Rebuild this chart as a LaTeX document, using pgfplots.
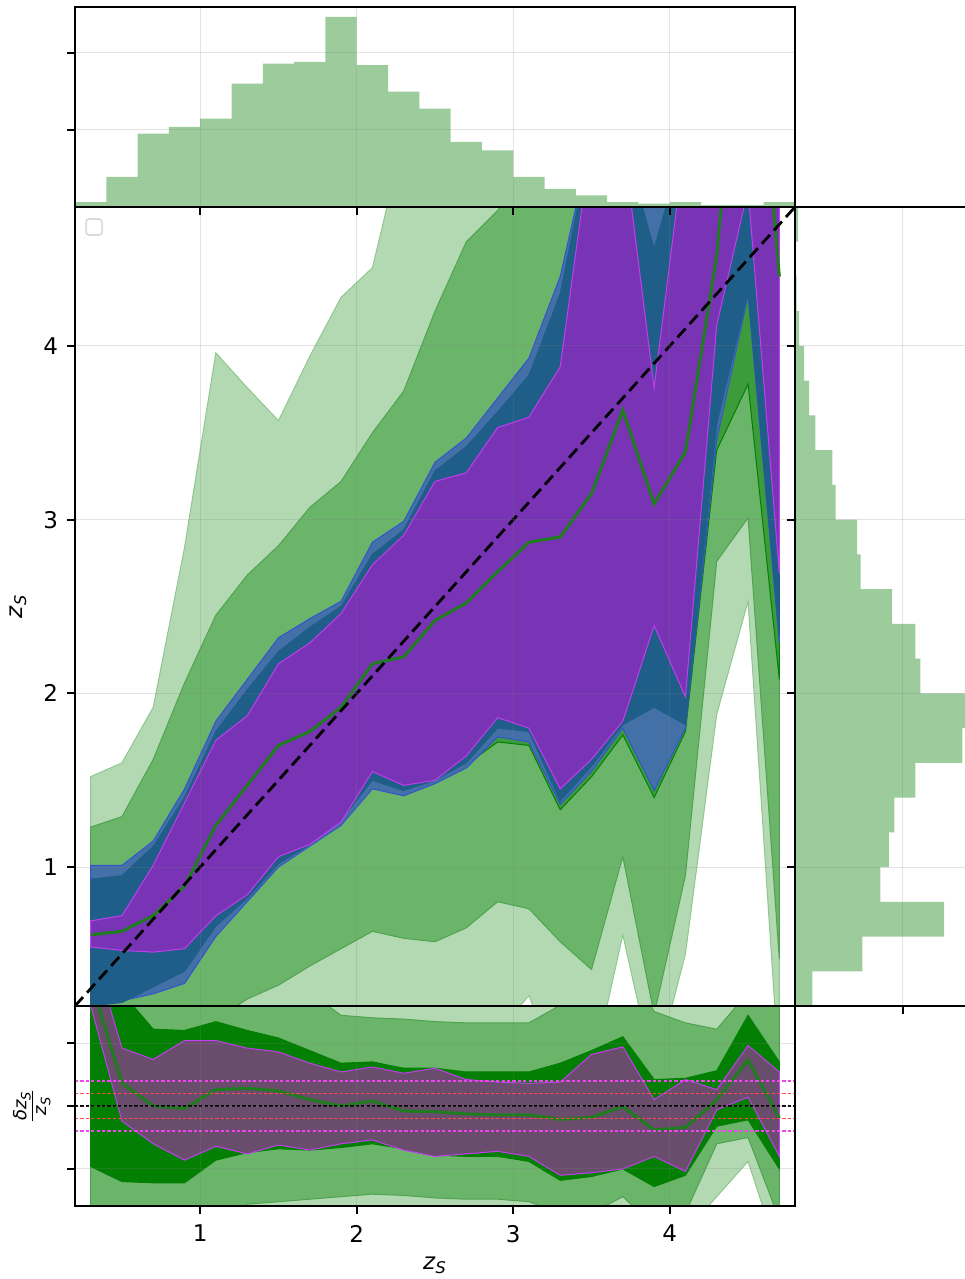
\documentclass[border=0pt]{standalone}
\usepackage{fontspec}
\setmainfont{DejaVu Sans}
\usepackage{pgfplots}
\pgfplotsset{compat=1.18}

\definecolor{lg}{HTML}{B3D9B3}
\definecolor{lgE}{HTML}{8FC78F}
\definecolor{mg}{HTML}{6BB56B}
\definecolor{mgE}{HTML}{4FA34F}
\definecolor{gone}{HTML}{3C9C3C}
\definecolor{bl}{HTML}{4470A8}
\definecolor{blE}{HTML}{3355CC}
\definecolor{bd}{HTML}{1F5E88}
\definecolor{pu}{HTML}{7834B4}
\definecolor{puE}{HTML}{C23CF0}
\definecolor{pg}{HTML}{6A4C6C}
\definecolor{dg}{HTML}{037F03}
\definecolor{hist}{HTML}{9CCB9C}
\definecolor{med}{HTML}{1E7E1E}
\definecolor{refred}{HTML}{FF4A4A}
\definecolor{refmag}{HTML}{EE44EE}

\pgfplotsset{
  panel/.style={
    scale only axis,
    axis on top,
    tick align=outside,
    major tick length=4pt,
    axis line style={line width=0.9pt},
    every tick/.style={line width=0.9pt, black},
    grid=major,
    major grid style={line width=0.5pt, gray, opacity=0.22},
    tick label style={font=\fontsize{11.5}{13}\selectfont},
    label style={font=\fontsize{11.5}{13}\selectfont},
  },
  band/.style={line width=0.5pt},
  refline/.style={line width=0.75pt, dash pattern=on 1.6pt off 1.1pt},
}

\begin{document}
\begin{tikzpicture}
\useasboundingbox (-37.5pt,-136.5pt) rectangle (444.5pt,503pt);

% ---------------- main panel: percentile bands of z_pred per z_S bin ----------------
\begin{axis}[panel,
  at={(0pt,0pt)}, anchor=south west,
  width=360pt, height=399.5pt,
  xmin=0.2, xmax=4.8, ymin=0.2, ymax=4.8,
  xtick={1,2,3,4}, xticklabels={}, xtick style={draw=none},
  ytick={1,2,3,4}, yticklabels={1,2,3,4}, ytick pos=left,
  yticklabel style={xshift=-1pt},
  ylabel={\textit{z}\textsubscript{\textit{S}}},
  ylabel style={at={(axis description cs:-0.079,0.5)}, anchor=center},
]
% 99.7 per cent band
\addplot[band, fill=lg, draw=lgE] coordinates {
 (0.3,1.52) (0.5,1.60) (0.7,1.92) (0.9,2.84) (1.1,3.96) (1.3,3.76) (1.5,3.57)
 (1.7,3.94) (1.9,4.28) (2.1,4.45) (2.3,5.2) (4.7,5.2)
 (4.7,-0.2) (4.5,2.53) (4.3,1.88) (4.1,0.50) (3.9,-0.2) (3.7,0.61) (3.5,-0.2)
 (3.3,-0.2) (3.1,0.26) (2.9,0.05) (2.7,-0.1) (2.5,-0.2) (0.3,-0.2)} -- cycle;
% 95 per cent band
\addplot[band, fill=mg, draw=mgE] coordinates {
 (0.3,1.23) (0.5,1.29) (0.7,1.62) (0.9,2.06) (1.1,2.45) (1.3,2.68) (1.5,2.85)
 (1.7,3.07) (1.9,3.22) (2.1,3.50) (2.3,3.74) (2.5,4.20) (2.7,4.60) (2.9,4.78)
 (3.1,5.0) (3.3,5.2) (4.7,5.2)
 (4.7,0.47) (4.5,3.01) (4.3,2.76) (4.1,0.95) (3.9,0.15) (3.7,1.06) (3.5,0.41)
 (3.3,0.57) (3.1,0.76) (2.9,0.80) (2.7,0.65) (2.5,0.57) (2.3,0.59) (2.1,0.63)
 (1.9,0.53) (1.7,0.43) (1.5,0.32) (1.3,0.24) (1.1,0.12) (0.9,0.0) (0.7,-0.1)
 (0.5,-0.2) (0.3,-0.2)} -- cycle;
% 68 per cent band
\addplot[band, fill=gone, draw=dg] coordinates {
 (0.3,0.90) (0.5,0.92) (0.7,1.10) (0.9,1.38) (1.1,1.75) (1.3,2.00) (1.5,2.20)
 (1.7,2.35) (1.9,2.47) (2.1,2.78) (2.3,2.92) (2.5,3.25) (2.7,3.40) (2.9,3.60)
 (3.1,3.80) (3.3,4.25) (3.5,5.2) (4.7,5.2)
 (4.7,2.08) (4.5,3.78) (4.3,3.40) (4.1,1.78) (3.9,1.40) (3.7,1.76) (3.5,1.52)
 (3.3,1.33) (3.1,1.70) (2.9,1.72) (2.7,1.59) (2.5,1.50) (2.3,1.43) (2.1,1.47)
 (1.9,1.26) (1.7,1.13) (1.5,1.02) (1.3,0.82) (1.1,0.62) (0.9,0.36) (0.7,0.29)
 (0.5,0.24) (0.3,0.22)} -- cycle;
% outer band of the second estimator
\addplot[band, fill=bl, draw=blE] coordinates {
 (0.3,1.01) (0.5,1.01) (0.7,1.15) (0.9,1.45) (1.1,1.84) (1.3,2.08) (1.5,2.32)
 (1.7,2.43) (1.9,2.53) (2.1,2.87) (2.3,2.99) (2.5,3.33) (2.7,3.47) (2.9,3.70)
 (3.1,3.93) (3.3,4.40) (3.5,5.2) (4.7,5.2)
 (4.7,2.29) (4.5,4.29) (4.3,3.46) (4.1,1.80) (3.9,1.44) (3.7,1.80) (3.5,1.55)
 (3.3,1.36) (3.1,1.72) (2.9,1.75) (2.7,1.57) (2.5,1.48) (2.3,1.41) (2.1,1.45)
 (1.9,1.24) (1.7,1.12) (1.5,1.00) (1.3,0.80) (1.1,0.60) (0.9,0.33) (0.7,0.27)
 (0.5,0.23) (0.3,0.21)} -- cycle;
% inner band of the second estimator
\addplot[band, fill=bd, draw=bd] coordinates {
 (0.3,0.93) (0.5,0.95) (0.7,1.12) (0.9,1.40) (1.1,1.78) (1.3,2.02) (1.5,2.24)
 (1.7,2.38) (1.9,2.50) (2.1,2.80) (2.3,2.94) (2.5,3.28) (2.7,3.42) (2.9,3.62)
 (3.1,3.83) (3.3,4.30) (3.5,5.2) (3.7,5.2) (3.9,4.56) (4.1,5.2) (4.7,5.2)
 (4.7,2.33) (4.5,4.31) (4.3,3.55) (4.1,1.82) (3.9,1.92) (3.7,1.82) (3.5,1.58)
 (3.3,1.38) (3.1,1.78) (2.9,1.80) (2.7,1.60) (2.5,1.50) (2.3,1.44) (2.1,1.50)
 (1.9,1.27) (1.7,1.13) (1.5,1.02) (1.3,0.82) (1.1,0.66) (0.9,0.40) (0.7,0.31)
 (0.5,0.22) (0.3,0.20)} -- cycle;
% band of the third estimator
\addplot[band, fill=pu, draw=puE] coordinates {
 (0.3,0.69) (0.5,0.72) (0.7,1.01) (0.9,1.37) (1.1,1.73) (1.3,1.87) (1.5,2.17)
 (1.7,2.29) (1.9,2.46) (2.1,2.74) (2.3,2.91) (2.5,3.22) (2.7,3.27) (2.9,3.53)
 (3.1,3.59) (3.3,3.88) (3.5,5.2) (3.7,5.2) (3.9,3.76) (4.1,5.2) (4.7,5.2)
 (4.7,2.69) (4.5,4.90) (4.3,4.12) (4.1,1.98) (3.9,2.39) (3.7,1.84) (3.5,1.62)
 (3.3,1.45) (3.1,1.80) (2.9,1.86) (2.7,1.64) (2.5,1.50) (2.3,1.47) (2.1,1.55)
 (1.9,1.26) (1.7,1.13) (1.5,1.06) (1.3,0.84) (1.1,0.72) (0.9,0.53) (0.7,0.51)
 (0.5,0.52) (0.3,0.54)} -- cycle;
% median
\addplot[med, line width=1.5pt] coordinates {
 (0.3,0.61) (0.5,0.63) (0.7,0.72) (0.9,0.89) (1.1,1.24) (1.3,1.47) (1.5,1.70)
 (1.7,1.78) (1.9,1.92) (2.1,2.17) (2.3,2.21) (2.5,2.42) (2.7,2.52) (2.9,2.70)
 (3.1,2.87) (3.3,2.90) (3.5,3.15) (3.7,3.63) (3.9,3.09) (4.1,3.39) (4.3,4.52)
 (4.5,6.5) (4.7,4.40)};
% one-to-one line
\addplot[black, line width=1.4pt, dash pattern=on 6pt off 3pt] coordinates {(0.2,0.2) (4.8,4.8)};

\node[draw=black!15, line width=0.8pt, rounded corners=1.5pt, minimum width=8pt,
      minimum height=8pt, inner sep=0pt, fill=white] at (rel axis cs:0.0265,0.975) {};
\end{axis}

% ---------------- top histogram ----------------
\begin{axis}[panel,
  at={(0pt,399.5pt)}, anchor=south west,
  width=360pt, height=100pt,
  xmin=0.2, xmax=4.8, ymin=0, ymax=0.649,
  xtick={1,2,3,4}, xticklabels={}, xtick pos=bottom,
  ytick={0.25,0.5}, yticklabels={}, ytick pos=left,
]
\addplot[ybar interval, fill=hist, draw=none] coordinates {
 (0.2,0.016) (0.4,0.098) (0.6,0.238) (0.8,0.260) (1.0,0.287) (1.2,0.400)
 (1.4,0.465) (1.6,0.471) (1.8,0.617) (2.0,0.460) (2.2,0.374) (2.4,0.319)
 (2.6,0.211) (2.8,0.184) (3.0,0.098) (3.2,0.059) (3.4,0.038) (3.6,0.016)
 (3.8,0.011) (4.0,0.016) (4.2,0.006) (4.4,0.006) (4.6,0.016) (4.8,0.016)};
\end{axis}

% ---------------- right histogram ----------------
\begin{axis}[panel,
  at={(360pt,0pt)}, anchor=south west,
  width=100pt, height=399.5pt,
  xmin=0, xmax=0.926, ymin=0.2, ymax=4.8,
  xtick={0.5}, xticklabels={}, xtick pos=bottom,
  ytick={1,2,3,4}, yticklabels={}, ytick pos=left,
]
\addplot[xbar interval, fill=hist, draw=none] coordinates {
 (0.080,0.2) (0.312,0.4) (0.690,0.6) (0.395,0.8) (0.435,1.0) (0.460,1.2)
 (0.557,1.4) (0.775,1.6) (0.824,1.8) (0.580,2.0) (0.557,2.2) (0.450,2.4)
 (0.304,2.6) (0.288,2.8) (0.188,3.0) (0.173,3.2) (0.094,3.4) (0.065,3.6)
 (0.042,3.8) (0.019,4.0) (0.008,4.2) (0.005,4.4) (0.015,4.6) (0.015,4.8)};
\end{axis}

% ---------------- residual panel ----------------
\begin{axis}[panel,
  at={(0pt,-100pt)}, anchor=south west,
  width=360pt, height=100pt,
  xmin=0.2, xmax=4.8, ymin=-0.794, ymax=0.794,
  xtick={1,2,3,4}, xticklabels={1,2,3,4}, xtick pos=bottom,
  ytick={-0.5,0,0.5}, yticklabels={}, ytick pos=left,
  xticklabel style={yshift=-2pt},
  xlabel={\textit{z}\textsubscript{\textit{S}}},
  xlabel style={at={(axis description cs:0.5,-0.295)}, anchor=center},
  ylabel={$\frac{\mbox{\fontsize{9}{10}\selectfont\itshape δz}_{\mbox{\fontsize{6.5}{7}\selectfont\itshape S}}}{\mbox{\fontsize{9}{10}\selectfont\itshape z}_{\mbox{\fontsize{6.5}{7}\selectfont\itshape S}}}$},
  ylabel style={at={(axis description cs:-0.06,0.5)}, anchor=center},
]
\addplot[band, fill=lg, draw=lgE] coordinates {
 (0.3,1.2) (4.7,1.2) (4.7,-1.2) (4.5,-0.44) (4.3,-0.72) (4.1,-1.0) (3.9,-1.2) (0.3,-1.2)} -- cycle;
\addplot[band, fill=mg, draw=mgE] coordinates {
 (0.3,1.2) (1.5,1.2) (1.7,0.90) (1.9,0.72) (2.1,0.70) (2.3,0.69) (2.5,0.67) (2.7,0.66)
 (2.9,0.66) (3.1,0.66) (3.3,0.80) (3.5,1.2) (3.7,1.2) (3.9,0.75) (4.1,0.66) (4.3,0.61)
 (4.5,0.90) (4.7,1.2)
 (4.7,-0.90) (4.5,-0.25) (4.3,-0.30) (4.1,-0.85) (3.9,-0.95) (3.7,-0.72) (3.5,-0.85)
 (3.3,-0.85) (3.1,-0.76) (2.9,-0.74) (2.7,-0.74) (2.5,-0.73) (2.3,-0.71) (2.1,-0.70)
 (1.9,-0.72) (1.7,-0.74) (1.5,-0.76) (1.3,-0.78) (1.1,-1.0) (0.9,-1.2) (0.3,-1.2)} -- cycle;
\addplot[band, fill=dg, draw=dg] coordinates {
 (0.3,1.2) (0.5,0.90) (0.7,0.61) (0.9,0.60) (1.1,0.67) (1.3,0.60) (1.5,0.54) (1.7,0.44)
 (1.9,0.34) (2.1,0.35) (2.3,0.30) (2.5,0.30) (2.7,0.27) (2.9,0.27) (3.1,0.27) (3.3,0.34)
 (3.5,0.44) (3.7,0.55) (3.9,0.21) (4.1,0.22) (4.3,0.28) (4.5,0.72) (4.7,0.35)
 (4.7,-0.50) (4.5,-0.11) (4.3,-0.16) (4.1,-0.55) (3.9,-0.64) (3.7,-0.50) (3.5,-0.56)
 (3.3,-0.59) (3.1,-0.44) (2.9,-0.40) (2.7,-0.40) (2.5,-0.39) (2.3,-0.34) (2.1,-0.30)
 (1.9,-0.33) (1.7,-0.35) (1.5,-0.34) (1.3,-0.37) (1.1,-0.43) (0.9,-0.61) (0.7,-0.61)
 (0.5,-0.60) (0.3,-0.48)} -- cycle;
\addplot[band, fill=pg, draw=puE] coordinates {
 (0.3,1.30) (0.5,0.46) (0.7,0.37) (0.9,0.52) (1.1,0.52) (1.3,0.46) (1.5,0.43) (1.7,0.34)
 (1.9,0.27) (2.1,0.31) (2.3,0.26) (2.5,0.30) (2.7,0.21) (2.9,0.19) (3.1,0.18) (3.3,0.19)
 (3.5,0.41) (3.7,0.47) (3.9,0.05) (4.1,0.21) (4.3,0.13) (4.5,0.48) (4.7,0.27)
 (4.7,-0.40) (4.5,0.07) (4.3,-0.03) (4.1,-0.52) (3.9,-0.40) (3.7,-0.50) (3.5,-0.53)
 (3.3,-0.55) (3.1,-0.40) (2.9,-0.36) (2.7,-0.38) (2.5,-0.40) (2.3,-0.35) (2.1,-0.27)
 (1.9,-0.30) (1.7,-0.35) (1.5,-0.31) (1.3,-0.38) (1.1,-0.32) (0.9,-0.43) (0.7,-0.30)
 (0.5,-0.12) (0.3,0.80)} -- cycle;
\addplot[med, line width=1.5pt] coordinates {
 (0.3,1.00) (0.5,0.18) (0.7,0.00) (0.9,-0.02) (1.1,0.13) (1.3,0.14) (1.5,0.12) (1.7,0.05)
 (1.9,0.00) (2.1,0.04) (2.3,-0.04) (2.5,-0.045) (2.7,-0.063) (2.9,-0.071) (3.1,-0.071)
 (3.3,-0.106) (3.5,-0.09) (3.7,-0.005) (3.9,-0.19) (4.1,-0.17) (4.3,0.05) (4.5,0.365)
 (4.7,-0.096)};

% reference levels of the relative deviation
\addplot[refline, black] coordinates {(0.2,0) (4.8,0)};
\addplot[refline, refred] coordinates {(0.2,0.1) (4.8,0.1)};
\addplot[refline, refred] coordinates {(0.2,-0.1) (4.8,-0.1)};
\addplot[refline, refmag] coordinates {(0.2,0.2) (4.8,0.2)};
\addplot[refline, refmag] coordinates {(0.2,-0.2) (4.8,-0.2)};
\end{axis}
\end{tikzpicture}
\end{document}
